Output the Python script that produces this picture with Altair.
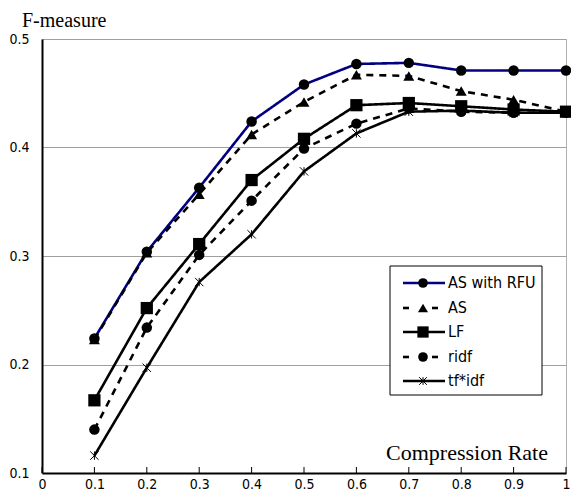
import altair as alt
import pandas as pd

rates = [0.1, 0.2, 0.3, 0.4, 0.5, 0.6, 0.7, 0.8, 0.9, 1.0]
as_rfu = [0.224, 0.304, 0.363, 0.424, 0.458, 0.477, 0.478, 0.471, 0.471, 0.471]
as_only = [0.223, 0.303, 0.357, 0.412, 0.442, 0.467, 0.466, 0.452, 0.444, 0.433]
lf = [0.167, 0.252, 0.311, 0.370, 0.408, 0.439, 0.441, 0.438, 0.435, 0.433]
ridf = [0.140, 0.234, 0.301, 0.351, 0.399, 0.422, 0.436, 0.433, 0.432, 0.432]
tfidf = [0.116, 0.197, 0.276, 0.320, 0.378, 0.413, 0.433, 0.434, 0.432, 0.432]

series_names = ["AS with RFU", "AS", "LF", "ridf", "tf*idf"]
series_values = [as_rfu, as_only, lf, ridf, tfidf]

x_ticks = [0, 0.1, 0.2, 0.3, 0.4, 0.5, 0.6, 0.7, 0.8, 0.9, 1]
y_ticks = [0.1, 0.2, 0.3, 0.4, 0.5]

ASTER = "M-1,-1L1,1M1,-1L-1,1M0,-1L0,1"
styles = {
    "AS with RFU": dict(color="#000080", dash=[1, 0], shape="circle", size=110, filled=True),
    "AS": dict(color="black", dash=[7, 6], shape="triangle-up", size=120, filled=True),
    "LF": dict(color="black", dash=[1, 0], shape="square", size=150, filled=True),
    "ridf": dict(color="black", dash=[7, 6], shape="circle", size=110, filled=True),
    "tf*idf": dict(color="black", dash=[1, 0], shape=ASTER, size=70, filled=False),
}

rows = []
for name, vals in zip(series_names, series_values):
    for r, v in zip(rates, vals):
        rows.append({"series": name, "rate": r, "f": v})
df = pd.DataFrame(rows)

W, H = 524, 434
LABEL_FONT = "DejaVu Sans Condensed, Liberation Sans Narrow, sans-serif"

xs = alt.Scale(domain=[0, 1], nice=False)
ys = alt.Scale(domain=[0.1, 0.5], nice=False, zero=False)
x_axis = alt.Axis(values=x_ticks, format="~g", title=None, ticks=False,
                  grid=False, domainColor="black", domainWidth=2,
                  labelPadding=4, labelFontSize=14, labelFont=LABEL_FONT,
                  labelColor="black", labelFlush=False)
y_axis = alt.Axis(values=y_ticks, format="~g", title=None, ticks=False,
                  grid=True, gridColor="#a0a0a0", gridWidth=1,
                  domainColor="black", domainWidth=2, labelPadding=13,
                  labelFontSize=14, labelFont=LABEL_FONT, labelColor="black")
xenc = alt.X("rate:Q", scale=xs, axis=x_axis)
yenc = alt.Y("f:Q", scale=ys, axis=y_axis)

base = alt.Chart(df)
layers = []

# inward x-axis ticks
tick_df = pd.DataFrame({"rate": x_ticks})
layers.append(
    alt.Chart(tick_df).mark_rule(color="black", strokeWidth=1).encode(
        x=alt.X("rate:Q", scale=xs, axis=x_axis), y=alt.value(H), y2=alt.value(H - 6)
    )
)

for name in series_names:
    st = styles[name]
    sub = base.transform_filter(alt.datum.series == name)
    layers.append(
        sub.mark_line(color=st["color"], strokeWidth=2.6, strokeDash=st["dash"]).encode(x=xenc, y=yenc)
    )
for name in series_names:
    st = styles[name]
    sub = base.transform_filter(alt.datum.series == name)
    layers.append(
        sub.mark_point(shape=st["shape"], size=st["size"], filled=st["filled"], color="black",
                       opacity=1, strokeWidth=1).encode(x=xenc, y=yenc)
    )

# legend box
one = alt.Chart(pd.DataFrame({"k": [0]}))
layers.append(
    one.mark_rect(fill="white", stroke="black", strokeWidth=1).encode(
        x=alt.value(348), x2=alt.value(500), y=alt.value(227), y2=alt.value(356)
    )
)
row_y = [244, 269, 293, 318, 342]
for i, name in enumerate(series_names):
    st = styles[name]
    yy = row_y[i]
    if st["dash"] == [1, 0]:
        layers.append(one.mark_rule(color=st["color"], strokeWidth=2.6).encode(
            x=alt.value(361), x2=alt.value(403), y=alt.value(yy)))
    else:
        layers.append(one.mark_rule(color="black", strokeWidth=2.6).encode(
            x=alt.value(361), x2=alt.value(367), y=alt.value(yy)))
        layers.append(one.mark_rule(color="black", strokeWidth=2.6).encode(
            x=alt.value(390), x2=alt.value(396), y=alt.value(yy)))
    layers.append(one.mark_point(shape=st["shape"], size=st["size"] * 0.85, filled=st["filled"],
                                 color="black", opacity=1, strokeWidth=1).encode(
        x=alt.value(381), y=alt.value(yy)))
    layers.append(alt.Chart(pd.DataFrame({"t": [name]})).mark_text(
        align="left", baseline="middle", fontSize=16, font=LABEL_FONT, color="black").encode(
        x=alt.value(406), y=alt.value(yy), text="t:N"))

# axis titles as text
layers.append(alt.Chart(pd.DataFrame({"t": ["F-measure"]})).mark_text(
    align="left", baseline="alphabetic", fontSize=20, font="Liberation Serif", color="black").encode(
    x=alt.value(-20), y=alt.value(-12), text="t:N"))
layers.append(alt.Chart(pd.DataFrame({"t": ["Compression Rate"]})).mark_text(
    align="right", baseline="alphabetic", fontSize=22, font="Liberation Serif", color="black").encode(
    x=alt.value(506), y=alt.value(421), text="t:N"))

chart = alt.layer(*layers).properties(
    width=W, height=H,
    autosize=alt.AutoSizeParams(type="none"),
    padding={"left": 34, "top": 31, "right": 5, "bottom": 18},
    background="white",
).configure_view(stroke="#b0b0b0", strokeWidth=1)

chart.save("out.html", embed_options={"renderer": "svg", "actions": False})
